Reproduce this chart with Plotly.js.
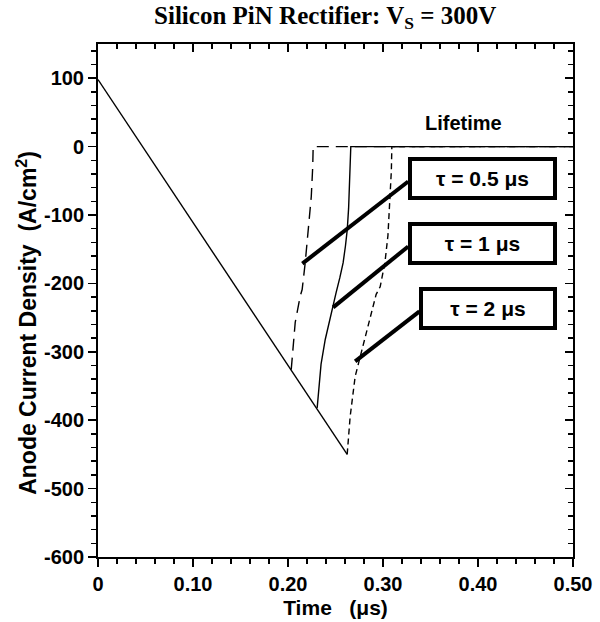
<!DOCTYPE html>
<html>
<head>
<meta charset="utf-8">
<script src="https://cdn.plot.ly/plotly-3.0.1.min.js"></script>
<style>html,body{margin:0;padding:0;background:#fff;}#chart{width:600px;height:622px;}</style>
</head>
<body>
<div id="chart"></div>
<script>
// Linear current ramp (A/cm^2 vs µs)
const rampTime = [0, 0.2623];
const rampJ = [98, -450];

// Lifetime 0.5 µs (long dashes)
const tau05Time = [0.2034, 0.2044, 0.2076, 0.2128, 0.2149, 0.2181, 0.2213, 0.2245, 0.2260, 0.2265, 0.50];
const tau05J = [-326, -307, -257, -219, -209, -170, -121, -73, -30, 0, 0];

// Lifetime 1 µs (solid)
const tau1Time = [0.2307, 0.2325, 0.2348, 0.2392, 0.2430, 0.2468, 0.2507, 0.2545, 0.2580, 0.2605, 0.2624, 0.2638, 0.2650, 0.2661, 0.50];
const tau1J = [-382, -355, -318, -282, -258, -234, -213, -192, -170, -145, -121, -90, -50, 0, 0];

// Lifetime 2 µs (short dashes)
const tau2Time = [0.2623, 0.2654, 0.2707, 0.2759, 0.2843, 0.2928, 0.2970, 0.3020, 0.3052, 0.3075, 0.3088, 0.3093, 0.50];
const tau2J = [-450, -395, -336, -307, -260, -216, -205, -170, -130, -80, -35, 0, 0];

const xTickVals = [0, 0.1, 0.2, 0.3, 0.4, 0.5];
const xTickText = ['0', '0.10', '0.20', '0.30', '0.40', '0.50'];
const yTickVals = [100, 0, -100, -200, -300, -400, -500, -600];
const yTickText = ['100', '0', '-100', '-200', '-300', '-400', '-500', '-600'];

const labels = ['\u03c4 = 0.5 \u03bcs', '\u03c4 = 1 \u03bcs', '\u03c4 = 2 \u03bcs'];

const sans = 'Liberation Sans, Arial, sans-serif';
const thin = 1.4;

const traces = [
  {x: rampTime, y: rampJ, mode: 'lines', line: {color: '#000', width: thin}, showlegend: false},
  {x: tau05Time, y: tau05J, mode: 'lines', line: {color: '#000', width: thin, dash: '12px,7px'}, showlegend: false},
  {x: tau1Time, y: tau1J, mode: 'lines', line: {color: '#000', width: thin}, showlegend: false},
  {x: tau2Time, y: tau2J, mode: 'lines', line: {color: '#000', width: thin, dash: '6px,4px'}, showlegend: false},
  {x: [0.25], y: [0], xaxis: 'x2', yaxis: 'y2', mode: 'markers', marker: {opacity: 0}, showlegend: false, hoverinfo: 'skip'}
];

const tickFont = {family: sans, size: 20, color: '#000', weight: 'bold'};

const layout = {
  width: 600, height: 622,
  margin: {l: 98, r: 27, t: 44, b: 65},
  paper_bgcolor: '#fff', plot_bgcolor: '#fff',
  showlegend: false,
  title: {
    text: '<b>Silicon PiN Rectifier: V<sub>S</sub> = 300V</b>',
    font: {family: 'Liberation Serif, Times New Roman, serif', size: 25, color: '#000'},
    x: 0.542, xanchor: 'center', xref: 'container',
    y: 0.976, yanchor: 'middle', yref: 'container'
  },
  xaxis: {
    range: [0, 0.5],
    tickvals: xTickVals, ticktext: xTickText,
    showgrid: false, zeroline: false,
    showline: true, linecolor: '#000', linewidth: 2,
    ticks: 'outside', ticklen: 8, tickwidth: 1.5, tickcolor: '#000',
    minor: {dtick: 0.02, tick0: 0, ticks: 'outside', ticklen: 5, tickwidth: 1.5, tickcolor: '#000', showgrid: false},
    tickfont: tickFont,
    title: {text: '<b>Time\u00a0\u00a0\u00a0(\u03bcs)</b>', font: {family: sans, size: 21, color: '#000'}, standoff: 6}
  },
  yaxis: {
    range: [-600, 150],
    tickvals: yTickVals, ticktext: yTickText,
    showgrid: false, zeroline: false,
    showline: true, linecolor: '#000', linewidth: 2,
    ticks: 'outside', ticklen: 8, tickwidth: 1.5, tickcolor: '#000',
    minor: {dtick: 20, tick0: 0, ticks: 'outside', ticklen: 5, tickwidth: 1.5, tickcolor: '#000', showgrid: false},
    tickfont: tickFont
  },
  xaxis2: {
    overlaying: 'x', side: 'top', range: [0, 0.5], dtick: 0.1, tick0: 0,
    showgrid: false, zeroline: false, showticklabels: false,
    showline: true, linecolor: '#000', linewidth: 2,
    ticks: 'inside', ticklen: 8, tickwidth: 1.5, tickcolor: '#000',
    minor: {dtick: 0.02, tick0: 0, ticks: 'inside', ticklen: 5, tickwidth: 1.5, tickcolor: '#000', showgrid: false}
  },
  yaxis2: {
    overlaying: 'y', side: 'right', range: [-600, 150], dtick: 100, tick0: 0,
    showgrid: false, zeroline: false, showticklabels: false,
    showline: true, linecolor: '#000', linewidth: 2,
    ticks: 'inside', ticklen: 8, tickwidth: 1.5, tickcolor: '#000',
    minor: {dtick: 20, tick0: 0, ticks: 'inside', ticklen: 5, tickwidth: 1.5, tickcolor: '#000', showgrid: false}
  },
  shapes: [
    {type: 'line', xref: 'x', yref: 'y', x0: 0.2151, y0: -171, x1: 0.3265, y1: -51, line: {color: '#000', width: 4}},
    {type: 'line', xref: 'x', yref: 'y', x0: 0.2475, y0: -235, x1: 0.3265, y1: -146, line: {color: '#000', width: 4}},
    {type: 'line', xref: 'x', yref: 'y', x0: 0.2707, y0: -314, x1: 0.3384, y1: -241, line: {color: '#000', width: 4}}
  ],
  annotations: [
    {text: '<b>Anode Current Density\u00a0\u00a0(A/cm<sup>2</sup>)</b>', textangle: -90,
     xref: 'paper', yref: 'paper', x: -0.15, y: 0.456, xanchor: 'center', yanchor: 'middle',
     showarrow: false, font: {family: sans, size: 23, color: '#000'}},
    {text: '<b>Lifetime</b>', xref: 'x', yref: 'y', x: 0.3843, y: 35, showarrow: false,
     font: {family: sans, size: 20, color: '#000'}},
    {text: '<b>' + labels[0] + '</b>', xref: 'x', yref: 'y', x: 0.4048, y: -46, showarrow: false,
     width: 141, height: 35, borderwidth: 4, borderpad: 0, bordercolor: '#000', bgcolor: '#fff',
     font: {family: sans, size: 21, color: '#000'}},
    {text: '<b>' + labels[1] + '</b>', xref: 'x', yref: 'y', x: 0.4048, y: -141, showarrow: false,
     width: 141, height: 35, borderwidth: 4, borderpad: 0, bordercolor: '#000', bgcolor: '#fff',
     font: {family: sans, size: 21, color: '#000'}},
    {text: '<b>' + labels[2] + '</b>', xref: 'x', yref: 'y', x: 0.4105, y: -236, showarrow: false,
     width: 130, height: 35, borderwidth: 4, borderpad: 0, bordercolor: '#000', bgcolor: '#fff',
     font: {family: sans, size: 21, color: '#000'}}
  ]
};

Plotly.newPlot('chart', traces, layout, {staticPlot: true, displayModeBar: false});
</script>
</body>
</html>
